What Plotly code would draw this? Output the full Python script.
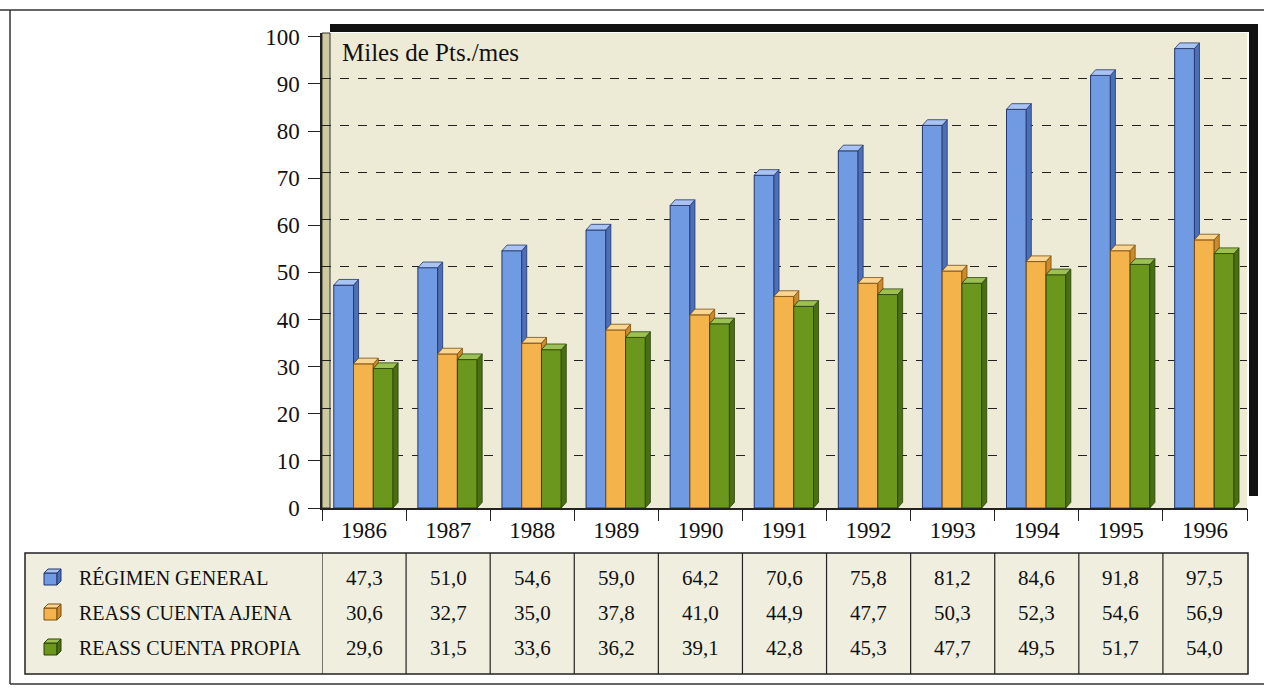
import plotly.graph_objects as go

years = ["1986", "1987", "1988", "1989", "1990", "1991", "1992", "1993", "1994", "1995", "1996"]
series_names = ["RÉGIMEN GENERAL", "REASS CUENTA AJENA", "REASS CUENTA PROPIA"]
regimen_general = [47.3, 51.0, 54.6, 59.0, 64.2, 70.6, 75.8, 81.2, 84.6, 91.8, 97.5]
cuenta_ajena = [30.6, 32.7, 35.0, 37.8, 41.0, 44.9, 47.7, 50.3, 52.3, 54.6, 56.9]
cuenta_propia = [29.6, 31.5, 33.6, 36.2, 39.1, 42.8, 45.3, 47.7, 49.5, 51.7, 54.0]
y_ticks = [0, 10, 20, 30, 40, 50, 60, 70, 80, 90, 100]
unit_label = "Miles de Pts./mes"

series = [regimen_general, cuenta_ajena, cuenta_propia]
front = ["#709BE3", "#F5B34C", "#6B981C"]
top_c = ["#A9C3F2", "#FBD592", "#9CC052"]
side_c = ["#4C6FBA", "#C98B2B", "#4A6E12"]
edge = ["#23356B", "#7A4E0E", "#2B430A"]

W = 0.235
offsets = [-0.36, -0.125, 0.11]
DX, DY = 0.06, 1.2
YMAX = 100.8
FONT = "Liberation Serif"

xs = list(range(len(years)))
fig = go.Figure()

for k in range(3):
    fig.add_trace(go.Bar(x=xs, y=series[k], offset=offsets[k], width=W,
                         marker=dict(color=front[k], line=dict(color=edge[k], width=1)),
                         name=series_names[k], showlegend=False, hoverinfo="skip"))

for k in range(3):
    sx, sy, tx, ty = [], [], [], []
    for i, v in enumerate(series[k]):
        x0 = i + offsets[k]
        x1 = x0 + W
        lo = series[k + 1][i] if k < 2 else 0.0
        sx += [x1, x1 + DX, x1 + DX, x1, x1, None]
        sy += [lo, lo + DY, v + DY, v, lo, None]
        tx += [x0, x0 + DX, x1 + DX, x1, x0, None]
        ty += [v, v + DY, v + DY, v, v, None]
    fig.add_trace(go.Scatter(x=sx, y=sy, mode="lines", fill="toself", fillcolor=side_c[k],
                             line=dict(color=edge[k], width=0.8), showlegend=False, hoverinfo="skip"))
    fig.add_trace(go.Scatter(x=tx, y=ty, mode="lines", fill="toself", fillcolor=top_c[k],
                             line=dict(color=edge[k], width=0.8), showlegend=False, hoverinfo="skip"))

# invisible trace to activate overlay axes
fig.add_trace(go.Scatter(x=[0], y=[0], xaxis="x2", yaxis="y2", mode="markers",
                         marker=dict(opacity=0), showlegend=False, hoverinfo="skip"))

def ppy(p):
    return (508 - p) / 475.0

def ppx(p):
    return (p - 322) / 925.0

shapes = []
# outer frame
shapes.append(dict(type="line", xref="paper", yref="paper", x0=ppx(0), x1=ppx(1264), y0=ppy(10), y1=ppy(10),
                   line=dict(color="#333", width=1.5)))
shapes.append(dict(type="line", xref="paper", yref="paper", x0=ppx(10), x1=ppx(10), y0=ppy(10), y1=ppy(684),
                   line=dict(color="#333", width=1.5)))
shapes.append(dict(type="line", xref="paper", yref="paper", x0=ppx(10), x1=ppx(1264), y0=ppy(684), y1=ppy(684),
                   line=dict(color="#333", width=1.5)))
# 3D box shadow
shapes.append(dict(type="rect", xref="paper", yref="paper", x0=ppx(330), x1=ppx(1258), y0=ppy(32), y1=ppy(24),
                   fillcolor="#111", line=dict(width=0)))
shapes.append(dict(type="rect", xref="paper", yref="paper", x0=ppx(1249), x1=ppx(1258), y0=ppy(496), y1=ppy(24),
                   fillcolor="#111", line=dict(width=0)))
# left wall
shapes.append(dict(type="rect", xref="paper", yref="paper", x0=0, x1=ppx(330), y0=0, y1=ppy(33),
                   fillcolor="#CFC9A0", line=dict(color="#333", width=1), layer="below"))
# table background and border
shapes.append(dict(type="rect", xref="paper", yref="paper", x0=ppx(25), x1=ppx(1248), y0=ppy(674), y1=ppy(553),
                   fillcolor="#F0EFDF", line=dict(color="#222", width=1.5), layer="below"))
for i in range(len(years)):
    shapes.append(dict(type="line", xref="x", yref="paper", x0=i - 0.5, x1=i - 0.5, y0=ppy(674), y1=ppy(553),
                       line=dict(color="#222", width=1.2)))

annotations = [dict(text=unit_label, xref="paper", yref="paper", x=ppx(340), y=ppy(52), xanchor="left",
                    yanchor="middle", showarrow=False, font=dict(family=FONT, size=25, color="#111"))]
row_px = [578, 613, 648]
for k in range(3):
    yy = ppy(row_px[k])
    # legend cube icon
    shapes.append(dict(type="rect", xref="paper", yref="paper", x0=ppx(44), x1=ppx(57),
                       y0=yy - 7 / 475, y1=yy + 5 / 475, fillcolor=front[k], line=dict(color=edge[k], width=1)))
    ix0, ix1, iy = ppx(44), ppx(57), yy + 5 / 475
    d = 4 / 925
    dyp = 4 / 475
    shapes.append(dict(type="path", xref="paper", yref="paper",
                       path=f"M {ix0} {iy} L {ix0 + d} {iy + dyp} L {ix1 + d} {iy + dyp} L {ix1} {iy} Z",
                       fillcolor=top_c[k], line=dict(color=edge[k], width=1)))
    shapes.append(dict(type="path", xref="paper", yref="paper",
                       path=f"M {ix1} {yy - 7 / 475} L {ix1 + d} {yy - 7 / 475 + dyp} L {ix1 + d} {iy + dyp} L {ix1} {iy} Z",
                       fillcolor=side_c[k], line=dict(color=edge[k], width=1)))
    annotations.append(dict(text=series_names[k], xref="paper", yref="paper", x=ppx(77), y=yy,
                            xanchor="left", yanchor="middle", showarrow=False,
                            font=dict(family=FONT, size=20, color="#111")))
    for i, v in enumerate(series[k]):
        annotations.append(dict(text=f"{v:.1f}".replace(".", ","), xref="x", yref="paper", x=i, y=yy,
                                xanchor="center", yanchor="middle", showarrow=False,
                                font=dict(family=FONT, size=21, color="#111")))

fig.update_layout(
    width=1264, height=690,
    margin=dict(l=322, r=17, t=33, b=182),
    paper_bgcolor="white", plot_bgcolor="#EDEBD6",
    barmode="overlay",
    showlegend=False,
    xaxis=dict(range=[-0.5, len(years) - 0.5], tickvals=xs, ticktext=years, ticks="",
               showgrid=False, zeroline=False, showline=True, linecolor="#222", linewidth=1.5,
               tickfont=dict(family=FONT, size=23, color="#111"), ticklabelstandoff=1),
    xaxis2=dict(range=[-0.5, len(years) - 0.5], overlaying="x", anchor="y",
                tickvals=[i - 0.5 for i in range(len(years) + 1)], ticks="outside", ticklen=12,
                tickcolor="#222", showticklabels=False, showgrid=False, zeroline=False),
    yaxis=dict(range=[0, YMAX], tickvals=y_ticks, ticks="outside", ticklen=12, tickcolor="#222",
               showgrid=False, zeroline=False, showline=True, linecolor="#222", linewidth=1.5,
               tickfont=dict(family=FONT, size=23, color="#111"), ticklabelstandoff=4),
    yaxis2=dict(range=[-DY, YMAX - DY], overlaying="y", anchor="x", tickvals=y_ticks[1:-1],
                showticklabels=False, ticks="", showgrid=True, gridcolor="#222", griddash="dash",
                gridwidth=1, zeroline=False),
    shapes=shapes,
    annotations=annotations,
)

fig.write_html("out.html", config={"displayModeBar": False},
               post_script="document.body.style.margin='0';document.body.style.overflow='hidden';")
